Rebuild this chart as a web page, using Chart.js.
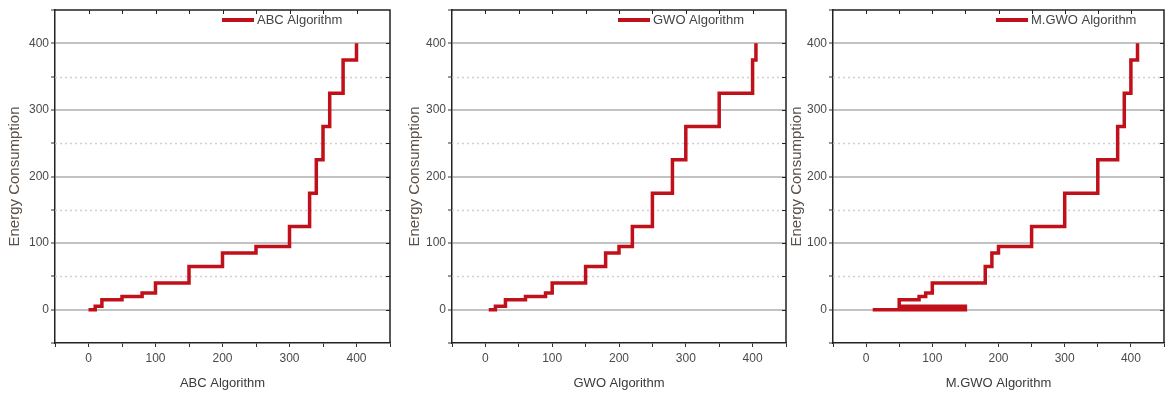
<!DOCTYPE html>
<html><head><meta charset="utf-8">
<script src="https://cdn.jsdelivr.net/npm/chart.js@4/dist/chart.umd.min.js"></script>
<style>
html,body{margin:0;padding:0;background:#fff;width:1168px;height:396px;overflow:hidden}
.p{position:absolute;top:0}
</style></head><body>
<div class="p" style="left:0px"><canvas id="c1" width="400" height="396"></canvas></div>
<div class="p" style="left:400px"><canvas id="c2" width="390" height="396"></canvas></div>
<div class="p" style="left:782px"><canvas id="c3" width="386" height="396"></canvas></div>
<script>
// ---- data ----
const abcX  = [0, 10, 20, 50, 80, 100, 150, 200, 250, 300, 330, 340, 350, 360, 380, 400];
const abcY  = [0, 5, 15, 20, 25, 40, 65, 85, 95, 125, 175, 225, 275, 325, 375, 400];
const gwoX  = [5, 15, 30, 60, 90, 100, 150, 180, 200, 220, 250, 280, 300, 350, 400, 405];
const gwoY  = [0, 5, 15, 20, 25, 40, 65, 85, 95, 125, 175, 225, 275, 325, 375, 400];
const mgwoX = [10, 150, 50, 80, 90, 100, 180, 190, 200, 250, 300, 350, 380, 390, 400, 410];
const mgwoY = [0, 5, 15, 20, 25, 40, 65, 85, 95, 125, 175, 225, 275, 325, 375, 400];
const labeledTicks = [0, 100, 200, 300, 400];
const yTitle = 'Energy Consumption';
const names = ['ABC Algorithm', 'GWO Algorithm', 'M.GWO Algorithm'];

const FONT = "'Liberation Sans', Arial, sans-serif";
const LINE_COLOR = '#c0101a';

const framePlugin = {
  id: 'frame',
  beforeDatasetsDraw(chart) {
    const {ctx, chartArea: a, scales: {y}} = chart;
    ctx.save();
    ctx.strokeStyle = '#cfcfcf';
    ctx.lineWidth = 1.5;
    ctx.setLineDash([2, 3]);
    y.ticks.forEach(t => {
      if (t.value % 100 !== 0 && t.value > y.min && t.value < y.max) {
        const py = Math.round(y.getPixelForValue(t.value)) + 0.5;
        ctx.beginPath(); ctx.moveTo(a.left, py); ctx.lineTo(a.right, py); ctx.stroke();
      }
    });
    ctx.restore();
  },
  afterDraw(chart) {
    const {ctx, chartArea: a, scales: {x, y}} = chart;
    ctx.save();
    ctx.strokeStyle = '#222';
    ctx.lineWidth = 1.5;
    ctx.beginPath();
    ctx.moveTo(a.left, a.top); ctx.lineTo(a.right, a.top); ctx.lineTo(a.right, a.bottom);
    ctx.stroke();
    ctx.lineWidth = 1;
    x.ticks.forEach(t => {
      const px = Math.round(x.getPixelForValue(t.value)) + 0.5;
      if (px > a.left + 2 && px < a.right - 2) {
        ctx.beginPath(); ctx.moveTo(px, a.top); ctx.lineTo(px, a.top + 4); ctx.stroke();
      }
    });
    y.ticks.forEach(t => {
      const py = Math.round(y.getPixelForValue(t.value)) + 0.5;
      if (py > a.top + 2 && py < a.bottom - 2) {
        ctx.beginPath(); ctx.moveTo(a.right, py); ctx.lineTo(a.right - 4, py); ctx.stroke();
      }
    });
    // legend
    const ds = chart.data.datasets[0];
    const ly = a.top + 10;
    ctx.strokeStyle = ds.borderColor;
    ctx.lineWidth = 4;
    ctx.beginPath(); ctx.moveTo(a.right - 168, ly); ctx.lineTo(a.right - 136, ly); ctx.stroke();
    ctx.fillStyle = '#444';
    ctx.font = "13px " + FONT;
    ctx.textBaseline = 'middle';
    ctx.textAlign = 'left';
    ctx.fillText(ds.label, a.right - 133, ly);
    ctx.restore();
  }
};

function makeChart(id, xs, ys, label, yAxisW, padRight) {
  const pts = xs.map((v, i) => ({x: v, y: ys[i]}));
  new Chart(document.getElementById(id), {
    type: 'line',
    data: {
      datasets: [{
        label: label,
        data: pts,
        stepped: true,
        borderColor: LINE_COLOR,
        borderWidth: 3.5,
        pointRadius: 0,
        fill: false,
        tension: 0,
        borderJoinStyle: 'miter'
      }]
    },
    options: {
      responsive: false,
      animation: false,
      devicePixelRatio: 1,
      layout: {padding: {top: 10, right: padRight, left: 0, bottom: 0}},
      plugins: {legend: {display: false}, tooltip: {enabled: false}},
      scales: {
        x: {
          type: 'linear',
          min: -50, max: 450,
          afterFit(s) { s.height = 53; },
          ticks: {
            stepSize: 50, autoSkip: false, maxRotation: 0, padding: 4,
            color: '#4a4a4a', font: {family: FONT, size: 12},
            callback: v => labeledTicks.includes(v) ? String(v) : ''
          },
          grid: {drawOnChartArea: false, drawTicks: true, tickLength: 4, tickColor: '#333'},
          border: {display: true, color: '#222', width: 1.5},
          title: {display: true, text: label, color: '#3a3a3a', font: {family: FONT, size: 13}, padding: {top: 4, bottom: 5}}
        },
        y: {
          min: -50, max: 450,
          afterFit(s) { s.width = yAxisW; },
          ticks: {
            stepSize: 50, autoSkip: false, padding: 2,
            color: '#4a4a4a', font: {family: FONT, size: 12},
            callback: v => labeledTicks.includes(v) ? String(v) : ''
          },
          grid: {
            drawTicks: true, tickLength: 4, tickColor: '#333', tickWidth: 1,
            color: c => (c.tick && labeledTicks.includes(c.tick.value)) ? '#c2c2c2' : 'rgba(0,0,0,0)',
            lineWidth: 2
          },
          border: {display: true, color: '#222', width: 1.5},
          title: {display: true, text: yTitle, color: '#5a5048', font: {family: FONT, size: 15}, padding: {top: 6, bottom: 4}}
        }
      }
    },
    plugins: [framePlugin]
  });
}

makeChart('c1', abcX, abcY, names[0], 55, 10);
makeChart('c2', gwoX, gwoY, names[1], 52, 2);
makeChart('c3', mgwoX, mgwoY, names[2], 51, 0);
</script>
</body></html>
